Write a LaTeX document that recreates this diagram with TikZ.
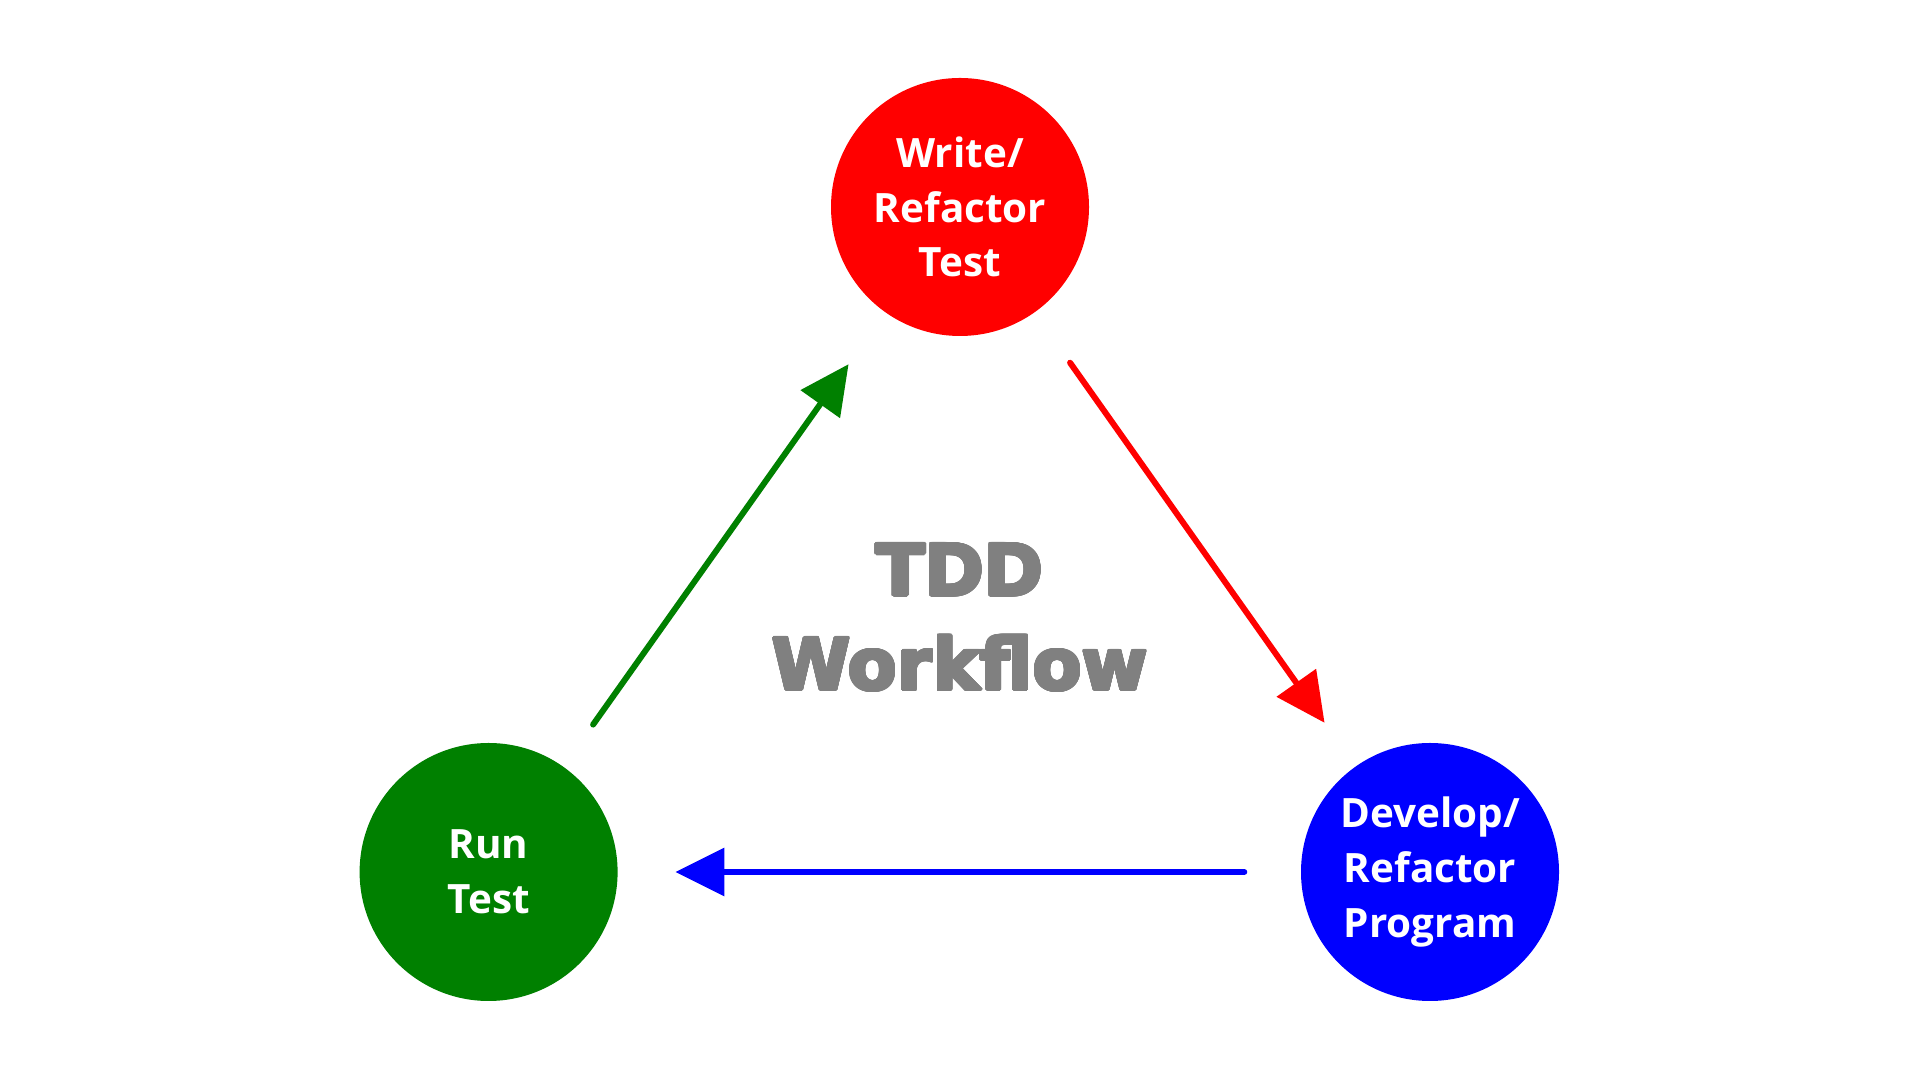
\documentclass[tikz,border=0pt]{standalone}
\usepackage{fontspec}
\usepackage{contour}
\setmainfont{Open Sans}
\newfontfamily\titlefont{DejaVu Sans}
\usetikzlibrary{arrows.meta}
\definecolor{tddred}{HTML}{FF0000}
\definecolor{tddgreen}{HTML}{008000}
\definecolor{tddblue}{HTML}{0000FF}
\definecolor{tddgray}{HTML}{808080}
\contourlength{0.45pt}
\contournumber{24}
\tikzset{
  stage/.style={circle, minimum size=2.58cm, inner sep=0pt, text=white, align=center,
    font=\fontsize{11.5}{15.6}\selectfont\bfseries},
  flow/.style={line width=1.7pt, line cap=round, -{Triangle[length=0.49cm,width=0.47cm]}}
}
\begin{document}
\begin{tikzpicture}
\useasboundingbox[fill=white] (0,0) rectangle (19.2,10.8);
\node[stage, fill=tddred] (write) at (9.60,8.73) {Write/\\Refactor\\Test};
\node[stage, fill=tddblue] (dev) at (14.30,2.08) {Develop/\\Refactor\\Program};
\node[stage, fill=tddgreen] (run) at (4.886,2.08) {Run\\Test};
\node[align=center, text=tddgray, font=\fontsize{20.3}{26.8}\titlefont\bfseries] (title) at (9.60,4.62) {\contour{tddgray}{TDD}\\\contour{tddgray}{Workflow}};
\draw[flow, tddgreen, shorten <=0.51cm, shorten >=0.63cm] (run) -- (write);
\draw[flow, tddred, shorten <=0.61cm, shorten >=0.53cm] (write) -- (dev);
\draw[flow, tddblue, shorten <=0.56cm, shorten >=0.57cm] (dev) -- (run);
\end{tikzpicture}
\end{document}
